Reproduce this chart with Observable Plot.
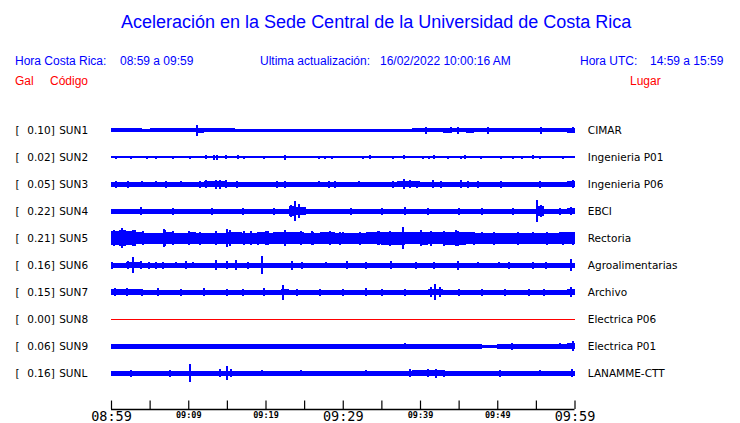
<!DOCTYPE html>
<html><head><meta charset="utf-8">
<script src="https://cdn.jsdelivr.net/npm/d3@7"></script>
<script src="https://cdn.jsdelivr.net/npm/@observablehq/plot@0.6"></script>
<style>
body{margin:0;background:#fff;}
#wrap{position:relative;width:740px;height:423px;overflow:hidden;font-family:"Liberation Sans",Arial,sans-serif;background:#fff;}
.h{position:absolute;white-space:pre;line-height:1;}
.b{color:#0000ff;font-size:12px;top:55px;}
.r{color:#ff0000;font-size:12px;top:75px;}
#chart{position:absolute;left:0;top:100px;}
</style></head><body>
<div id="wrap">
  <div class="h" style="left:121px;top:13px;font-size:18px;color:#0000ff;">Aceleración en la Sede Central de la Universidad de Costa Rica</div>
  <div class="h b" style="left:15px;">Hora Costa Rica:</div>
  <div class="h b" style="left:120px;">08:59 a 09:59</div>
  <div class="h b" style="left:260px;">Ultima actualización:</div>
  <div class="h b" style="left:380px;">16/02/2022 10:00:16 AM</div>
  <div class="h b" style="left:580px;">Hora UTC:</div>
  <div class="h b" style="left:650px;">14:59 a 15:59</div>
  <div class="h r" style="left:15px;">Gal</div>
  <div class="h r" style="left:50px;">Código</div>
  <div class="h r" style="left:630px;">Lugar</div>
  <div id="chart"></div>
</div>
<script>
// ---- data ----
const stations = ["SUN1","SUN2","SUN3","SUN4","SUN5","SUN6","SUN7","SUN8","SUN9","SUNL"];
const galPeak  = [0.10, 0.02, 0.05, 0.22, 0.21, 0.16, 0.15, 0.00, 0.06, 0.16];
const places   = ["CIMAR","Ingenieria P01","Ingenieria P06","EBCI","Rectoria","Agroalimentarias","Archivo","Electrica P06","Electrica P01","LANAMME-CTT"];

// envelope half-widths (px) per minute since 08:59
const envSUN1 = [2,2,2,2,1.5,2,2,2,2,2, 2,2.5,2,2,2,2,1.5,1.5,1.5,1.5, 1.5,1.5,1.5,1.5,1.5,1.5,1.5,1.5,1.5,1.5, 1.5,1.5,1.5,1.5,1.5,1.5,1.5,1.5,1.5,2, 2,2,2,2.5,2,2,2.5,2,2,2, 2,2,2,2,2,2,2,2,2,2.5];
const envSUN2 = [0.7,0.7,0.7,0.7,0.7,0.7,0.7,0.7,0.7,0.7, 0.7,0.7,0.7,1,0.7,0.7,0.7,0.7,0.7,0.7, 0.7,0.7,0.7,0.7,0.7,0.7,0.7,0.7,0.7,0.7, 0.7,0.7,0.7,0.7,0.7,0.7,0.7,0.7,0.7,0.7, 0.7,0.7,0.7,0.7,0.7,0.7,0.7,0.7,0.7,0.7, 0.7,0.7,0.7,0.7,0.7,0.7,0.7,0.7,0.7,0.7];
const envSUN3 = [2.5,2.5,2.5,2.5,2.5,2.5,2.5,2.5,2.5,2.5, 2.5,2.5,3,3,3,2.5,2.5,2.5,2.5,2.5, 2.5,2.5,2.5,2.5,2.5,2.5,2.5,2.5,2.5,2.5, 2.5,2.5,2.5,2.5,2.5,2.5,2.5,3,3,3, 2.5,2.5,2.5,2.5,2.5,2.5,2.5,2.5,2.5,2.5, 2.5,2.5,2.5,2.5,2.5,2.5,2.5,2.5,2.5,3];
const envSUN4 = [2.5,2.5,2.5,2.5,2.5,2.5,2.5,2.5,2.5,2.5, 2.5,2.5,2.5,2.5,2.5,2.5,2.5,2.5,2.5,2.5, 2.5,2.5,2.5,5,4,2.5,2.5,2.5,2.5,2.5, 2.5,2.5,2.5,2.5,2.5,2.5,2.5,2.5,2.5,2.5, 2.5,2.5,2.5,2.5,2.5,2.5,2.5,2.5,2.5,2.5, 2.5,2.5,2.5,2.5,2.5,5,2.5,2.5,2.5,3];
const envSUN5 = [7,8,7,6,5.5,5.5,5.5,6,5.5,5.5, 6,5.5,5.5,5.5,5.5,6,6,5.5,5.5,6, 5.5,6,6,6,6,5.5,5.5,6,6,5.5, 5.5,5.5,5.5,6,6,6.5,6.5,6.5,6,6, 6.5,6,6,6.5,6.5,6.5,6,5.5,5.5,5.5, 5.5,5.5,5.5,5.5,5.5,5.5,5.5,5.5,6,6];
const envSUN6 = [2.5,2.5,3,3,2.5,2.5,2.5,2.5,2.5,2.5, 2.5,2.5,2.5,2.5,2.5,2.5,2.5,2.5,2.5,2.5, 2.5,2.5,2.5,2.5,2.5,2.5,2.5,2.5,2.5,2.5, 2.5,2.5,2.5,2.5,2.5,2.5,2.5,2.5,2.5,2.5, 2.5,2.5,2.5,2.5,2.5,2.5,2.5,2.5,2.5,2.5, 2.5,2.5,2.5,2.5,2.5,2.5,2.5,2.5,2.5,2.5];
const envSUN7 = [3,3,3,3,2.5,2.5,2.5,2.5,2.5,2.5, 2.5,2.5,2.5,2.5,2.5,2.5,2.5,2.5,2.5,2.5, 2.5,2.5,3,2.5,2.5,2.5,2.5,2.5,2.5,2.5, 2.5,2.5,2.5,2.5,2.5,2.5,2.5,2.5,2.5,2.5, 2.5,3,3,2.5,2.5,2.5,2.5,2.5,2.5,2.5, 2.5,2.5,2.5,2.5,2.5,2.5,2.5,2.5,2.5,3];
const envSUN8 = [0.5,0.5,0.5,0.5,0.5,0.5,0.5,0.5,0.5,0.5, 0.5,0.5,0.5,0.5,0.5,0.5,0.5,0.5,0.5,0.5, 0.5,0.5,0.5,0.5,0.5,0.5,0.5,0.5,0.5,0.5, 0.5,0.5,0.5,0.5,0.5,0.5,0.5,0.5,0.5,0.5, 0.5,0.5,0.5,0.5,0.5,0.5,0.5,0.5,0.5,0.5, 0.5,0.5,0.5,0.5,0.5,0.5,0.5,0.5,0.5,0.5];
const envSUN9 = [2.5,2.5,2.5,2.5,2.5,2.5,2.5,2.5,2.5,2.5, 2.5,2.5,2.5,2.5,2.5,2.5,2.5,2.5,2.5,2.5, 2.5,2.5,2.5,2.5,2.5,2.5,2.5,2.5,2.5,2.5, 2.5,2.5,2.5,2.5,2.5,2.5,2.5,2.5,2.5,2.5, 2.5,2.5,2.5,2.5,2.5,2.5,2.5,2.5,1.5,1.5, 2.5,2.5,2.5,2.5,2.5,2.5,2.5,2.5,2.5,3];
const envSUNL = [2.5,2.5,2.5,2.5,2.5,2.5,2.5,2.5,2.5,2.5, 2.5,2.5,2.5,2.5,2.5,2.5,2.5,2.5,2.5,2.5, 2.5,2.5,2.5,2.5,2.5,2.5,2.5,2.5,2.5,2.5, 2.5,2.5,2.5,2.5,2.5,2.5,2.5,2.5,2.5,3, 3,3,3,2.5,2.5,2.5,2.5,2.5,2.5,2.5, 2.5,2.5,2.5,2.5,2.5,2.5,2.5,2.5,2.5,2.5];

// spikes: [minute since 08:59, half-height px]
const spkSUN1 = [[11.1,5.5],[40.7,3.5],[43.9,2.8],[44.9,3.5],[48.8,3.5],[55.6,3.5],[59.8,3]];
const spkSUN2 = [[0.6,1.5],[2.5,1.5],[4.6,1.5],[5.8,1.5],[7.9,1.5],[10.1,1.5],[12.2,2],[13.3,2.5],[13.7,2.5],[14.8,2],[16.4,2],[17.1,1.5],[19.7,1.5],[22.5,2.5],[26.8,1.5],[27.7,1.5],[28.6,1.5],[32.6,1.5],[33.5,2],[36.5,1.5],[37.8,2],[40.3,1.5],[41.1,1.5],[41.7,2],[43.5,1.5],[45.2,1.5],[45.8,2],[47.8,1.5],[50.4,1.5],[52.0,1.5],[53.2,1.5],[54.6,2],[55.5,1.5],[58.4,1.5]];
const spkSUN3 = [[0.6,3.5],[2.1,3.5],[4,3],[5.8,3],[7.1,3.5],[9,3],[11.5,3.5],[12.2,4],[13.5,4.5],[14.1,4.5],[14.8,4],[16.2,3.5],[21.4,3.5],[22.5,3.5],[26.9,3],[28.2,3.5],[28.9,3.5],[32,3],[36.5,3.5],[37.9,5],[38.7,4],[39.5,3.5],[41.6,4],[42.6,3.5],[45.2,4],[46.2,3.5],[47.5,3.5],[50.4,3.5],[55.5,3.5],[59.7,4]];
const spkSUN4 = [[3.8,4],[8,3.5],[13,3.5],[17,3.5],[21,3.5],[23.2,6],[23.8,10],[24.3,7],[25,4],[31,3.5],[35,3.5],[38,4],[41,3.5],[45,3.5],[48,3.5],[52,3.5],[55.1,11],[55.6,6],[58,3.5],[59.5,4]];
const spkSUN5 = [[0.26,8],[1.4,10],[2.8,8],[3,8],[4.1,7],[6.8,9],[6.9,8],[7.9,7],[10,7],[11.5,6.5],[13.5,7],[15,9],[15.4,8],[17.1,7],[18,7],[18.9,6.5],[20,7],[20.2,7],[22.5,8],[24.5,7],[26,7],[26.1,6.5],[28.3,7],[29.6,6.5],[30,6],[32.2,6.5],[34.5,7],[34.6,7],[36.1,7.5],[37.7,11],[40,8],[41.3,7.5],[43,7.5],[44.6,8],[44.9,7.5],[46.9,6.5],[48,6],[49.5,6.5],[52.6,6.5],[54.5,6],[56.4,6.5],[58,6],[58.4,6.5],[59.8,6.5]];
const spkSUN6 = [[0.1,3.5],[2.2,4],[2.8,8],[3.8,4],[4.8,3.5],[5.7,3.5],[6.7,3.5],[8.3,3],[9.6,4],[10.5,3],[13.5,5],[15,4],[16.1,5],[17.7,3.5],[19.5,9],[23.4,4.5],[24.7,3.5],[27.8,3],[30.5,4],[32.9,3.5],[36.2,4],[39.4,3.5],[41.7,3.5],[44.9,4.5],[47.4,3],[50.1,3],[51.4,3.5],[54.5,3.5],[56.2,3.5],[59.5,6]];
const spkSUN7 = [[0.5,4],[2,4],[4,3.5],[6,4],[9,3.5],[12,4],[15,3.5],[17,3.5],[19.8,4],[22.2,7.5],[24,3.5],[27,3.5],[30,3.5],[32.9,4],[35,3.5],[38,3.5],[41.3,5],[41.9,8],[42.5,5],[45,3.5],[48,3.5],[51,3.5],[54,3.5],[56,3.5],[59.5,5]];
const spkSUN8 = [];
const spkSUN9 = [[38,3],[51.8,3.5],[58,3],[59.7,5]];
const spkSUNL = [[2.5,3.5],[7.6,3.5],[10.2,9],[14,4],[15,7],[15.5,4],[19.5,3],[24.5,3],[33,3],[38.7,4],[41,4],[42,4.5],[43,3.5],[50.3,3.5],[55.5,3],[59.6,4]];

const envelopes = [envSUN1,envSUN2,envSUN3,envSUN4,envSUN5,envSUN6,envSUN7,envSUN8,envSUN9,envSUNL];
const spikes = [spkSUN1,spkSUN2,spkSUN3,spkSUN4,spkSUN5,spkSUN6,spkSUN7,spkSUN8,spkSUN9,spkSUNL];
const traceColors = ["#0000ff","#0000ff","#0000ff","#0000ff","#0000ff","#0000ff","#0000ff","#ff0000","#0000ff","#0000ff"];

const tickMinutes = [0,5,10,15,20,25,30,35,40,45,50,55,60];
const bigTicks = [0,30,60];
const bigLabels = ["08:59","09:29","09:59"];
const smallTicks = [10,20,40,50];
const smallLabels = ["09:09","09:19","09:39","09:49"];

// ---- build tables ----
const ROW_PX = 27;
const rows = stations.map((s,i)=>({i, s, gal: galPeak[i], place: places[i], color: traceColors[i]}));
const env = [];
envelopes.forEach((arr,i)=>{
  arr.forEach((a,m)=>env.push({i, m, a, color: traceColors[i]}));
  env.push({i, m: arr.length, a: arr[arr.length-1], color: traceColors[i]});
});
const spk = [];
spikes.forEach((arr,i)=>arr.forEach(([m,a])=>spk.push({i, m, a, color: traceColors[i]})));

const AXIS_Y = 10.333, TICK_TOP = 10.02, BIG_Y = 10.59, SMALL_Y = 10.56;
const lab = {fontFamily: "DejaVu Sans", fontSize: 10.5, fill: "black"};

const chart = Plot.plot({
  width: 740, height: 323,
  marginLeft: 111, marginRight: 165.5, marginTop: 0, marginBottom: 0,
  x: {domain: [0, 60], axis: null},
  y: {domain: [0, 9], range: [30, 273], axis: null},
  color: {type: "identity"},
  marks: [
    Plot.areaY(env, {x: "m", y1: d=>d.i - d.a/ROW_PX, y2: d=>d.i + d.a/ROW_PX, z: "i", fill: "color", curve: "step-after", shapeRendering: "crispEdges"}),
    Plot.ruleX(spk, {x: "m", y1: d=>d.i - d.a/ROW_PX, y2: d=>d.i + d.a/ROW_PX, stroke: "color", strokeWidth: 2, shapeRendering: "crispEdges"}),
    Plot.text(rows, {...lab, y: "i", text: d=>"[", frameAnchor: "left", dx: -96, textAnchor: "start"}),
    Plot.text(rows, {...lab, y: "i", text: d=>d.gal.toFixed(2)+"]", frameAnchor: "left", dx: -56.7, textAnchor: "end"}),
    Plot.text(rows, {...lab, y: "i", text: "s", frameAnchor: "left", dx: -52.3, textAnchor: "start"}),
    Plot.text(rows, {...lab, y: "i", text: "place", frameAnchor: "right", dx: 12.8, textAnchor: "start"}),
    Plot.ruleY([AXIS_Y], {x1: 0, x2: 60, stroke: "black", strokeWidth: 1.4}),
    Plot.ruleX(tickMinutes, {x: d=>d, y1: AXIS_Y, y2: TICK_TOP, stroke: "black", strokeWidth: 1.2}),
    Plot.text(bigTicks, {x: d=>d, y: BIG_Y, text: (d,k)=>bigLabels[k], fontFamily: "DejaVu Sans Mono", fontSize: 13.5, fill: "black"}),
    Plot.text(smallTicks, {x: d=>d, y: SMALL_Y, text: (d,k)=>smallLabels[k], fontFamily: "DejaVu Sans Mono", fontSize: 8.5, fontWeight: "bold", fill: "black"})
  ]
});
document.getElementById("chart").appendChild(chart);
</script>
</body></html>
